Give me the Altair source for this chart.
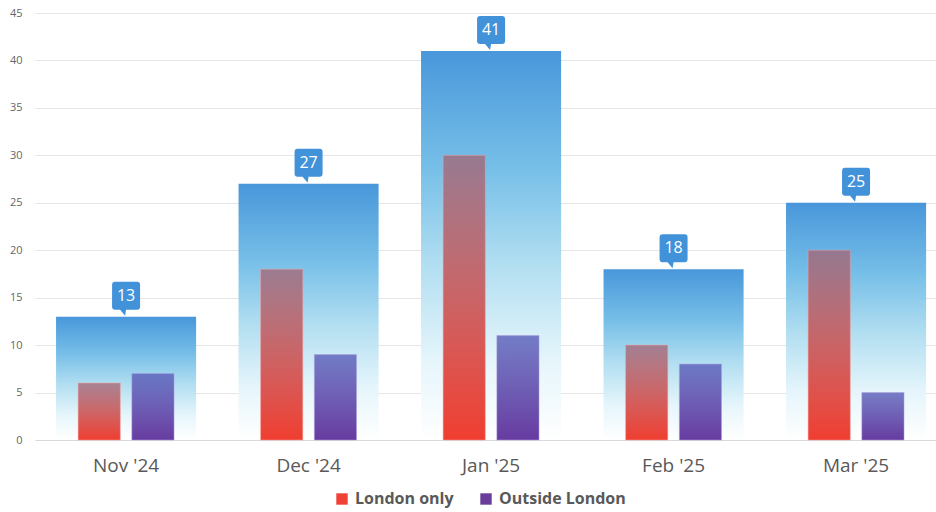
import altair as alt
import pandas as pd

months = ["Nov '24", "Dec '24", "Jan '25", "Feb '25", "Mar '25"]
london_only = [6, 18, 30, 10, 20]
outside_london = [7, 9, 11, 8, 5]
totals = [13, 27, 41, 18, 25]
series_names = ["London only", "Outside London"]
series_colors = ["#ef4136", "#6a3d9a"]

tot_df = pd.DataFrame({"month": months, "total": totals})
long_df = pd.DataFrame({
    "month": months * 2,
    "series": [series_names[0]] * len(months) + [series_names[1]] * len(months),
    "value": london_only + outside_london,
})

FONT = "Open Sans"

x_enc = alt.X("month:N", sort=months,
              scale=alt.Scale(paddingInner=0.2325, paddingOuter=0.0848, align=0.68),
              axis=alt.Axis(title=None, labelAngle=0, ticks=False, domain=True,
                            domainColor="#d9d9d9", labelFontSize=19, labelColor="#595959",
                            labelFont=FONT, labelPadding=16, grid=False))
y_enc = alt.Y("total:Q", scale=alt.Scale(domain=[0, 45], nice=False),
              axis=alt.Axis(title=None, values=list(range(0, 50, 5)), ticks=False,
                            domain=False, labelFontSize=11, labelColor="#666666",
                            labelFont=FONT, labelPadding=13, gridColor="#e6e6e6"))

blue_grad = alt.Gradient(
    gradient="linear", x1=0, x2=0, y1=0, y2=1,
    stops=[alt.GradientStop(color="#3b8fd8", offset=0),
           alt.GradientStop(color="#6cbae6", offset=0.3),
           alt.GradientStop(color="#acdcf0", offset=0.55),
           alt.GradientStop(color="#e4f5fb", offset=0.8),
           alt.GradientStop(color="#ffffff", offset=1)])

red_grad = alt.Gradient(
    gradient="linear", x1=0, x2=0, y1=1, y2=0,
    stops=[alt.GradientStop(color="rgba(240,62,48,1)", offset=0),
           alt.GradientStop(color="rgba(165,100,115,0.75)", offset=1)])

purple_grad = alt.Gradient(
    gradient="linear", x1=0, x2=0, y1=1, y2=0,
    stops=[alt.GradientStop(color="rgba(103,59,160,1)", offset=0),
           alt.GradientStop(color="rgba(90,95,185,0.8)", offset=1)])

total_bars = alt.Chart(tot_df).mark_bar(fill=blue_grad, opacity=0.93).encode(x=x_enc, y=y_enc)

xoff = alt.XOffset("series:N", sort=series_names,
                   scale=alt.Scale(domain=series_names, paddingInner=0.215, paddingOuter=0.411))

red_bars = alt.Chart(long_df).transform_filter(alt.datum.series == series_names[0]).mark_bar(
    fill=red_grad, stroke="#f5a0a0", strokeWidth=1, strokeOpacity=0.5
).encode(x=alt.X("month:N", sort=months), xOffset=xoff, y=alt.Y("value:Q"))

purple_bars = alt.Chart(long_df).transform_filter(alt.datum.series == series_names[1]).mark_bar(
    fill=purple_grad, stroke="#b0a0e0", strokeWidth=1, strokeOpacity=0.5
).encode(x=alt.X("month:N", sort=months), xOffset=xoff, y=alt.Y("value:Q"))

legend_layer = alt.Chart(long_df).mark_square(opacity=0, size=0).encode(
    x=alt.X("month:N", sort=months), y=alt.Y("value:Q"),
    color=alt.Color("series:N", sort=series_names,
                    scale=alt.Scale(domain=series_names, range=series_colors),
                    legend=alt.Legend(title=None, orient="none", direction="horizontal",
                                      legendX=299, legendY=478,
                                      symbolType="square", symbolSize=130, symbolOpacity=1,
                                      symbolStrokeWidth=0,
                                      labelFont=FONT, labelFontSize=16, labelFontWeight="bold",
                                      labelColor="#595959", columnPadding=24, labelOffset=5))
)

callout_path = ("M-11,-35 H11 Q14,-35 14,-32 V-10 Q14,-7 11,-7 H0 L-1,-1 L-6,-7 H-11 "
                "Q-14,-7 -14,-10 V-32 Q-14,-35 -11,-35 Z")
callouts = alt.Chart(tot_df).mark_point(
    shape=callout_path, size=4, filled=True, fill="#4292da", opacity=1, strokeWidth=0
).encode(x=alt.X("month:N", sort=months), y=alt.Y("total:Q"))

callout_text = alt.Chart(tot_df).mark_text(
    dy=-21, baseline="middle", align="center", color="white", fontSize=16, font=FONT
).encode(x=alt.X("month:N", sort=months), y=alt.Y("total:Q"), text=alt.Text("total:Q"))

chart = alt.layer(total_bars, red_bars, purple_bars, legend_layer, callouts, callout_text).properties(
    width=901, height=427,
    padding={"left": 35, "top": 13, "right": 0, "bottom": 72},
    autosize=alt.AutoSizeParams(type="none"),
    background="white",
).configure_view(stroke=None)

chart.save("out.html", embed_options={"renderer": "svg", "actions": False})
